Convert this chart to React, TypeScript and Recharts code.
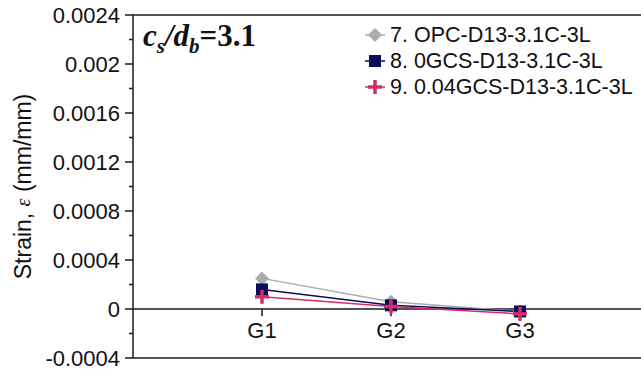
import React from 'react';
import { LineChart, Line, XAxis, YAxis, ReferenceLine, Legend } from 'recharts';

const categories = ['G1', 'G2', 'G3'];
const opcValues = [0.00025, 0.00006, -0.00002];
const gcs0Values = [0.00016, 0.00003, -0.00002];
const gcs004Values = [0.0001, 0.00002, -0.00004];
const yTicks = [-0.0004, -0.0002, 0, 0.0002, 0.0004, 0.0006, 0.0008, 0.001, 0.0012, 0.0014, 0.0016, 0.0018, 0.002, 0.0022, 0.0024];
const yMajorTicks = [-0.0004, 0, 0.0004, 0.0008, 0.0012, 0.0016, 0.002, 0.0024];
const yTickLabels = ['-0.0004', '0', '0.0004', '0.0008', '0.0012', '0.0016', '0.002', '0.0024'];

const series = [
  { key: 'opc', name: '7. OPC-D13-3.1C-3L', color: '#ababab', shape: 'diamond' },
  { key: 'gcs0', name: '8. 0GCS-D13-3.1C-3L', color: '#0c0c5e', shape: 'square' },
  { key: 'gcs004', name: '9. 0.04GCS-D13-3.1C-3L', color: '#d42e66', shape: 'plus' },
];

const data = categories.map((c, i) => ({
  cat: c,
  opc: opcValues[i],
  gcs0: gcs0Values[i],
  gcs004: gcs004Values[i],
}));

const FONT = '"Liberation Sans", Arial, sans-serif';
const AXIS = '#1a1a1a';

function Marker({ shape, color, cx, cy }: any) {
  if (cx == null || cy == null) return null;
  if (shape === 'diamond') {
    const r = 7;
    return <polygon points={`${cx},${cy - r} ${cx + r},${cy} ${cx},${cy + r} ${cx - r},${cy}`} fill={color} />;
  }
  if (shape === 'square') {
    const s = 6;
    return <rect x={cx - s} y={cy - s} width={2 * s} height={2 * s} fill={color} />;
  }
  const a = 7;
  return (
    <g stroke={color} strokeWidth={3.5}>
      <line x1={cx - a} x2={cx + a} y1={cy} y2={cy} />
      <line x1={cx} x2={cx} y1={cy - a} y2={cy + a} />
    </g>
  );
}

function YTick(props: any) {
  const { x, y, payload } = props;
  const v = payload.value;
  const idx = yMajorTicks.findIndex((m) => Math.abs(m - v) < 1e-9);
  const major = idx >= 0;
  return (
    <g>
      <line x1={x} x2={x - (major ? 8 : 4)} y1={y} y2={y} stroke={AXIS} strokeWidth={1.5} />
      {major && (
        <text x={x - 13} y={y} dy="0.36em" textAnchor="end" fontFamily={FONT} fontSize={22} fill="#111">
          {yTickLabels[idx]}
        </text>
      )}
    </g>
  );
}

function XTick(props: any) {
  const { x, y, payload } = props;
  return (
    <text x={x} y={y} dy={-20} textAnchor="middle" fontFamily={FONT} fontSize={22} fill="#111">
      {payload.value}
    </text>
  );
}

function LegendContent() {
  return (
    <div style={{ fontFamily: FONT, fontSize: 21.5, color: '#111' }}>
      {series.map((s) => (
        <div key={s.key} style={{ display: 'flex', alignItems: 'center', height: 26 }}>
          <svg width={24} height={20} style={{ display: 'block' }}>
            <line x1={2} x2={22} y1={10} y2={10} stroke={s.color} strokeWidth={1.5} />
            <Marker shape={s.shape} color={s.color} cx={12} cy={10} />
          </svg>
          <span style={{ marginLeft: 3, whiteSpace: 'nowrap', lineHeight: '26px' }}>{s.name}</span>
        </div>
      ))}
    </div>
  );
}

function YLabel(props: any) {
  const vb = props.viewBox;
  const cx = vb.x + 23;
  const cy = vb.y + vb.height / 2;
  return (
    <text
      transform={`translate(${cx},${cy}) rotate(-90)`}
      textAnchor="middle"
      dominantBaseline="central"
      fontFamily={FONT}
      fontSize={23}
      fill="#111"
    >
      Strain, <tspan fontStyle="italic" fontFamily='"Liberation Serif", serif' fontSize={20}>ε</tspan> (mm/mm)
    </text>
  );
}

export default function App() {
  return (
    <div style={{ position: 'fixed', left: 0, top: 0, width: 641, height: 373, overflow: 'hidden', background: '#fff' }}>
      <LineChart width={649} height={373} data={data} margin={{ top: 15, right: 0, bottom: 0, left: 0 }}>
        <XAxis
          dataKey="cat"
          type="category"
          padding={{ left: 129, right: 129 }}
          height={15}
          tickSize={0}
          tickMargin={0}
          tickLine={false}
          tick={<XTick />}
          axisLine={{ stroke: AXIS, strokeWidth: 1.5 }}
          interval={0}
        />
        <YAxis
          type="number"
          domain={[-0.0004, 0.0024]}
          ticks={yTicks}
          interval={0}
          width={133}
          tickSize={0}
          tickMargin={0}
          tickLine={false}
          tick={<YTick />}
          axisLine={{ stroke: AXIS, strokeWidth: 1.5 }}
          allowDataOverflow
          label={{ content: (p: any) => <YLabel {...p} /> }}
        />
        <ReferenceLine y={0} stroke={AXIS} strokeWidth={1.5} />
        <ReferenceLine y={0.0024} stroke={AXIS} strokeWidth={1.5} />
        {categories.map((c) => (
          <ReferenceLine
            key={c}
            segment={[{ x: c, y: 0 }, { x: c, y: -0.00006 }]}
            stroke={AXIS}
            strokeWidth={1.5}
          />
        ))}
        {series.map((s) => (
          <Line
            key={s.key}
            dataKey={s.key}
            name={s.name}
            stroke={s.color}
            strokeWidth={1.5}
            isAnimationActive={false}
            dot={(p: any) => <Marker key={`${s.key}-${p.index}`} shape={s.shape} color={s.color} cx={p.cx} cy={p.cy} />}
            activeDot={false}
          />
        ))}
        <Legend
          layout="vertical"
          align="center"
          verticalAlign="middle"
          content={() => <LegendContent />}
          wrapperStyle={{ position: 'absolute', top: 22, left: 363, width: 'auto', height: 'auto' }}
        />
      </LineChart>
      <div
        style={{
          position: 'absolute',
          left: 143,
          top: 20,
          fontFamily: '"Liberation Serif", "Times New Roman", serif',
          fontWeight: 'bold',
          fontSize: 31,
          lineHeight: '31px',
          color: '#111',
          whiteSpace: 'nowrap',
        }}
      >
        <span style={{ fontStyle: 'italic' }}>c</span>
        <span style={{ fontStyle: 'italic', fontSize: 21, position: 'relative', top: 7 }}>s</span>
        <span style={{ fontStyle: 'italic' }}>/d</span>
        <span style={{ fontStyle: 'italic', fontSize: 21, position: 'relative', top: 7 }}>b</span>
        <span>=3.1</span>
      </div>
    </div>
  );
}
